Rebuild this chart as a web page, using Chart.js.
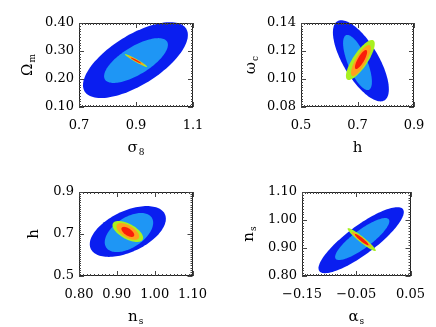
<!DOCTYPE html>
<html>
<head>
<meta charset="utf-8">
<script src="https://cdn.jsdelivr.net/npm/chart.js@4"></script>
<style>
html,body{margin:0;padding:0;background:#fff;}
#wrap{position:relative;width:436px;height:327px;overflow:hidden;background:#fff;}
#wrap canvas{position:absolute;}
</style>
</head>
<body>
<div id="wrap"></div>
<script>
// ---------------- DATA ----------------
// contour levels, outer to inner
const levelNames = ['outer', 'second', 'third', 'fourth', 'inner'];

// Panel 1: sigma_8 (x) vs Omega_m (y)
const p1XTicks = [0.7, 0.9, 1.1];
const p1XLabels = ['0.7', '0.9', '1.1'];
const p1YTicks = [0.10, 0.20, 0.30, 0.40];
const p1YLabels = ['0.10', '0.20', '0.30', '0.40'];
const p1Cx = [0.898, 0.900, 0.900, 0.900, 0.900];
const p1Cy = [0.2675, 0.266, 0.266, 0.266, 0.266];
const p1Sx = [0.184, 0.112, 0.039, 0.029, 0.018];
const p1Sy = [0.1355, 0.080, 0.023, 0.017, 0.010];
const p1Rho = [0.66, 0.70, -0.965, -0.965, -0.96];

// Panel 2: h (x) vs omega_c (y)
const p2XTicks = [0.5, 0.7, 0.9];
const p2XLabels = ['0.5', '0.7', '0.9'];
const p2YTicks = [0.08, 0.10, 0.12, 0.14];
const p2YLabels = ['0.08', '0.10', '0.12', '0.14'];
const p2Cx = [0.712, 0.700, 0.710, 0.712, 0.7125];
const p2Cy = [0.113, 0.1118, 0.1136, 0.1132, 0.1139];
const p2Sx = [0.099, 0.051, 0.051, 0.035, 0.0215];
const p2Sy = [0.029, 0.0197, 0.0143, 0.0111, 0.0068];
const p2Rho = [-0.70, -0.70, 0.80, 0.80, 0.80];

// Panel 3: n_s (x) vs h (y)
const p3XTicks = [0.80, 0.90, 1.00, 1.10];
const p3XLabels = ['0.80', '0.90', '1.00', '1.10'];
const p3YTicks = [0.5, 0.7, 0.9];
const p3YLabels = ['0.5', '0.7', '0.9'];
const p3Cx = [0.929, 0.932, 0.929, 0.929, 0.929];
const p3Cy = [0.712, 0.707, 0.712, 0.712, 0.710];
const p3Sx = [0.1005, 0.064, 0.0405, 0.030, 0.017];
const p3Sy = [0.121, 0.093, 0.050, 0.040, 0.024];
const p3Rho = [0.50, 0.50, -0.60, -0.60, -0.60];

// Panel 4: alpha_s (x) vs n_s (y)
const p4XTicks = [-0.15, -0.05, 0.05];
const p4XLabels = ['\u22120.15', '\u22120.05', '0.05'];
const p4YTicks = [0.80, 0.90, 1.00, 1.10];
const p4YLabels = ['0.80', '0.90', '1.00', '1.10'];
const p4Cx = [-0.041, -0.039, -0.040, -0.040, -0.040];
const p4Cy = [0.928, 0.932, 0.930, 0.930, 0.930];
const p4Sx = [0.0786, 0.050, 0.026, 0.018, 0.0125];
const p4Sy = [0.118, 0.075, 0.041, 0.027, 0.020];
const p4Rho = [0.85, 0.85, -0.95, -0.95, -0.93];

// axis titles: [main symbol, subscript]
const p1XTitle = ['\u03C3', '8'];
const p1YTitle = ['\u03A9', 'm'];
const p2XTitle = ['h', ''];
const p2YTitle = ['\u03C9', 'c'];
const p3XTitle = ['n', 's'];
const p3YTitle = ['h', ''];
const p4XTitle = ['\u03B1', 's'];
const p4YTitle = ['n', 's'];

// ---------------- STYLE / LAYOUT ----------------
const levelColors = ['#0a1ef0', '#1e96f5', '#a8f020', '#ffa01e', '#fa1e0a'];
const FONT = 'DejaVu Serif';

const panels = [
  {pos:[0,0,218,163], box:{l:79,r:193,t:23,b:107}, xr:[0.7,1.1], yr:[0.10,0.40], xMinor:0.01, yMinor:0.01,
   xt:p1XTicks, xl:p1XLabels, yt:p1YTicks, yl:p1YLabels, cx:p1Cx, cy:p1Cy, sx:p1Sx, sy:p1Sy, rho:p1Rho,
   xTitle:p1XTitle, yTitle:p1YTitle, yTitleX:27},
  {pos:[218,0,218,163], box:{l:83,r:196,t:23,b:107}, xr:[0.5,0.9], yr:[0.08,0.14], xMinor:0.01, yMinor:0.002,
   xt:p2XTicks, xl:p2XLabels, yt:p2YTicks, yl:p2YLabels, cx:p2Cx, cy:p2Cy, sx:p2Sx, sy:p2Sy, rho:p2Rho,
   xTitle:p2XTitle, yTitle:p2YTitle, yTitleX:32},
  {pos:[0,163,218,164], box:{l:79,r:194,t:29,b:113}, xr:[0.80,1.10], yr:[0.5,0.9], xMinor:0.01, yMinor:0.01,
   xt:p3XTicks, xl:p3XLabels, yt:p3YTicks, yl:p3YLabels, cx:p3Cx, cy:p3Cy, sx:p3Sx, sy:p3Sy, rho:p3Rho,
   xTitle:p3XTitle, yTitle:p3YTitle, yTitleX:33},
  {pos:[218,163,218,164], box:{l:84,r:196,t:29,b:113}, xr:[-0.15,0.05], yr:[0.80,1.10], xMinor:0.005, yMinor:0.01,
   xt:p4XTicks, xl:p4XLabels, yt:p4YTicks, yl:p4YLabels, cx:p4Cx, cy:p4Cy, sx:p4Sx, sy:p4Sy, rho:p4Rho,
   xTitle:p4XTitle, yTitle:p4YTitle, yTitleX:30}
];

// plugin: draws the confidence ellipses through the chart's scales
const ellipsePlugin = {
  id: 'ellipses',
  beforeDatasetsDraw(chart) {
    const p = chart.options.plugins.ellipses.panel;
    const xs = chart.scales.x, ys = chart.scales.y, ctx = chart.ctx;
    ctx.save();
    for (let k = 0; k < p.cx.length; k++) {
      const r = p.rho[k], q = Math.sqrt(1 - r * r);
      ctx.beginPath();
      const N = 120;
      for (let i = 0; i <= N; i++) {
        const t = 2 * Math.PI * i / N;
        const vx = p.cx[k] + p.sx[k] * Math.cos(t);
        const vy = p.cy[k] + p.sy[k] * (r * Math.cos(t) + q * Math.sin(t));
        const px = xs.getPixelForValue(vx), py = ys.getPixelForValue(vy);
        if (i === 0) ctx.moveTo(px, py); else ctx.lineTo(px, py);
      }
      ctx.closePath();
      ctx.fillStyle = levelColors[k];
      ctx.fill();
    }
    ctx.restore();
  },
  afterDraw(chart) {
    const p = chart.options.plugins.ellipses.panel;
    const xs = chart.scales.x, ys = chart.scales.y, ctx = chart.ctx;
    const a = chart.chartArea;
    ctx.save();
    // frame
    ctx.strokeStyle = '#222';
    ctx.lineWidth = 1;
    ctx.strokeRect(Math.round(a.left) + 0.5, Math.round(a.top) + 0.5, Math.round(a.right - a.left) - 1, Math.round(a.bottom - a.top) - 1);
    // inward ticks
    ctx.strokeStyle = '#444';
    const drawX = (v, len) => {
      const px = Math.round(xs.getPixelForValue(v)) + 0.5;
      ctx.beginPath();
      ctx.moveTo(px, a.bottom); ctx.lineTo(px, a.bottom - len);
      ctx.moveTo(px, a.top); ctx.lineTo(px, a.top + len);
      ctx.stroke();
    };
    const drawY = (v, len) => {
      const py = Math.round(ys.getPixelForValue(v)) + 0.5;
      ctx.beginPath();
      ctx.moveTo(a.left, py); ctx.lineTo(a.left + len, py);
      ctx.moveTo(a.right, py); ctx.lineTo(a.right - len, py);
      ctx.stroke();
    };
    const nx = Math.round((p.xr[1] - p.xr[0]) / p.xMinor);
    for (let i = 1; i < nx; i++) drawX(p.xr[0] + i * p.xMinor, 2);
    const ny = Math.round((p.yr[1] - p.yr[0]) / p.yMinor);
    for (let i = 1; i < ny; i++) drawY(p.yr[0] + i * p.yMinor, 2);
    p.xt.forEach(v => drawX(v, 5));
    p.yt.forEach(v => drawY(v, 5));
    // axis titles with subscripts
    ctx.fillStyle = '#000';
    ctx.textBaseline = 'alphabetic';
    const drawTitle = (parts) => {
      ctx.font = '15px ' + FONT;
      const w1 = ctx.measureText(parts[0]).width;
      ctx.font = '9px ' + FONT;
      const w2 = parts[1] ? ctx.measureText(parts[1]).width + 1 : 0;
      const start = -(w1 + w2) / 2;
      ctx.font = '15px ' + FONT;
      ctx.textAlign = 'left';
      ctx.fillText(parts[0], start, 5);
      if (parts[1]) {
        ctx.font = '9px ' + FONT;
        ctx.fillText(parts[1], start + w1 + 1, 8);
      }
    };
    ctx.save();
    ctx.translate((a.left + a.right) / 2, a.bottom + 40);
    drawTitle(p.xTitle);
    ctx.restore();
    ctx.save();
    ctx.translate(p.yTitleX, (a.top + a.bottom) / 2);
    ctx.rotate(-Math.PI / 2);
    drawTitle(p.yTitle);
    ctx.restore();
    ctx.restore();
  }
};

const wrap = document.getElementById('wrap');
panels.forEach((p) => {
  const cv = document.createElement('canvas');
  cv.width = p.pos[2]; cv.height = p.pos[3];
  cv.style.left = p.pos[0] + 'px'; cv.style.top = p.pos[1] + 'px';
  cv.style.width = p.pos[2] + 'px'; cv.style.height = p.pos[3] + 'px';
  wrap.appendChild(cv);
  const b = p.box;
  new Chart(cv, {
    type: 'scatter',
    data: {
      datasets: levelNames.map((n, k) => ({
        label: n,
        data: [{x: p.cx[k], y: p.cy[k]}],
        pointRadius: 0,
        backgroundColor: levelColors[k]
      }))
    },
    options: {
      responsive: false,
      animation: false,
      devicePixelRatio: 1,
      layout: {padding: {left: 0, top: b.t, right: p.pos[2] - b.r, bottom: 0}},
      plugins: {legend: {display: false}, tooltip: {enabled: false}, ellipses: {panel: p}},
      scales: {
        x: {
          type: 'linear', min: p.xr[0], max: p.xr[1],
          grid: {display: false, drawTicks: false}, border: {display: false},
          afterBuildTicks: (s) => { s.ticks = p.xt.map(v => ({value: v})); },
          afterFit: (s) => { s.height = p.pos[3] - b.b; },
          ticks: {padding: 11, color: '#000', font: {family: FONT, size: 13},
                  maxRotation: 0, autoSkip: false,
                  callback: (v, i) => p.xl[i]}
        },
        y: {
          type: 'linear', min: p.yr[0], max: p.yr[1],
          grid: {display: false, drawTicks: false}, border: {display: false},
          afterBuildTicks: (s) => { s.ticks = p.yt.map(v => ({value: v})); },
          afterFit: (s) => { s.width = b.l; },
          ticks: {padding: 5, color: '#000', font: {family: FONT, size: 13},
                  autoSkip: false,
                  callback: (v, i) => p.yl[i]}
        }
      }
    },
    plugins: [ellipsePlugin]
  });
});
</script>
</body>
</html>
